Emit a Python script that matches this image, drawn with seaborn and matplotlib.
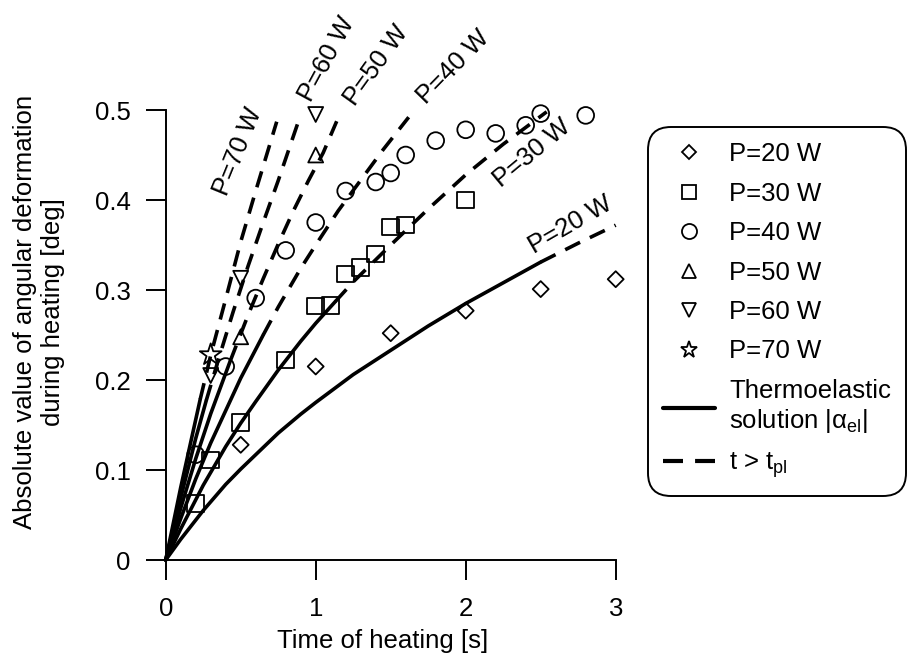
import matplotlib
matplotlib.use("Agg")
import matplotlib.pyplot as plt
import seaborn as sns
import numpy as np
import pandas as pd
from matplotlib.lines import Line2D

# ---------------- data ----------------
# theoretical curves |alpha_el|(t); solid up to t_pl, dashed after
p20_t = [0, 0.1, 0.25, 0.4, 0.5, 0.6, 0.75, 0.9, 1.0, 1.25, 1.5, 1.75, 2.0, 2.25, 2.5, 2.75, 3.0]
p20_y = [0, 0.023, 0.055, 0.084, 0.101, 0.117, 0.141, 0.162, 0.175, 0.206, 0.233, 0.260, 0.285, 0.308, 0.331, 0.352, 0.372]
p20_tpl = 2.5
p30_t = [0, 0.1, 0.25, 0.4, 0.5, 0.6, 0.75, 0.9, 1.0, 1.13, 1.25, 1.5, 1.75, 2.0, 2.25, 2.54]
p30_y = [0, 0.0345, 0.083, 0.126, 0.152, 0.176, 0.211, 0.243, 0.263, 0.287, 0.309, 0.350, 0.390, 0.428, 0.462, 0.498]
p30_tpl = 1.13
p40_t = [0, 0.1, 0.2, 0.3, 0.4, 0.5, 0.65, 0.75, 0.9, 1.0, 1.15, 1.3, 1.45, 1.62]
p40_y = [0, 0.046, 0.09, 0.13, 0.166, 0.202, 0.25, 0.281, 0.324, 0.35, 0.388, 0.422, 0.456, 0.492]
p40_tpl = 0.65
p50_t = [0, 0.1, 0.2, 0.3, 0.43, 0.55, 0.65, 0.75, 0.85, 0.95, 1.05, 1.14]
p50_y = [0, 0.0575, 0.1125, 0.1625, 0.221, 0.2725, 0.3125, 0.351, 0.3875, 0.421, 0.4525, 0.4875]
p50_tpl = 0.43
p60_t = [0, 0.1, 0.2, 0.27, 0.35, 0.45, 0.55, 0.65, 0.75, 0.884]
p60_y = [0, 0.069, 0.135, 0.177, 0.222, 0.276, 0.327, 0.375, 0.4215, 0.487]
p60_tpl = 0.27
p70_t = [0, 0.1, 0.23, 0.3, 0.4, 0.5, 0.6, 0.74]
p70_y = [0, 0.0805, 0.1785, 0.2275, 0.29, 0.3535, 0.41, 0.487]
p70_tpl = 0.23

# measured points
m20_t = [0.5, 1.0, 1.5, 2.0, 2.5, 3.0]
m20_y = [0.128, 0.215, 0.252, 0.277, 0.301, 0.312]
m30_t = [0.2, 0.3, 0.5, 0.8, 1.0, 1.1, 1.2, 1.3, 1.4, 1.5, 1.6, 2.0]
m30_y = [0.063, 0.111, 0.153, 0.222, 0.282, 0.283, 0.318, 0.325, 0.34, 0.37, 0.372, 0.40]
m40_t = [0.2, 0.4, 0.6, 0.8, 1.0, 1.2, 1.4, 1.5, 1.6, 1.8, 2.0, 2.2, 2.4, 2.5, 2.8]
m40_y = [0.117, 0.215, 0.291, 0.344, 0.375, 0.41, 0.42, 0.43, 0.45, 0.466, 0.478, 0.474, 0.483, 0.496, 0.494]
m50_t = [0.5, 1.0]
m50_y = [0.248, 0.45]
m60_t = [0.3, 0.5, 1.0]
m60_y = [0.205, 0.313, 0.495]
m70_t = [0.3]
m70_y = [0.228]

series_labels = ["P=20 W", "P=30 W", "P=40 W", "P=50 W", "P=60 W", "P=70 W"]

# ---------------- style ----------------
sns.set_theme(style="ticks")
plt.rcParams["font.family"] = ["Liberation Sans", "DejaVu Sans"]
plt.rcParams["mathtext.fontset"] = "custom"
plt.rcParams["mathtext.rm"] = "Liberation Sans"
plt.rcParams["mathtext.it"] = "Liberation Sans"
for k in ["text.color", "axes.labelcolor", "xtick.color", "ytick.color", "axes.edgecolor"]:
    plt.rcParams[k] = "black"
FS = 18.5

fig = plt.figure(figsize=(9.09, 6.59), dpi=100)
W, H = 909, 659
x0px, x3px, y0px, y5px = 165.7, 615.7, 560.0, 110.0
ax = fig.add_axes([x0px / W, (H - y0px) / H, (x3px - x0px) / W, (y0px - y5px) / H])

LW = 2.6
DASH = (0, (4.6, 3.0))

curves = [(p20_t, p20_y, p20_tpl), (p30_t, p30_y, p30_tpl), (p40_t, p40_y, p40_tpl),
          (p50_t, p50_y, p50_tpl), (p60_t, p60_y, p60_tpl), (p70_t, p70_y, p70_tpl)]
for t, y, tpl in curves:
    df = pd.DataFrame({"t": t, "y": y})
    solid = df[df.t <= tpl + 1e-9]
    dashed = df[df.t >= tpl - 1e-9]
    sns.lineplot(data=solid, x="t", y="y", color="black", lw=LW, ax=ax,
                 sort=False, estimator=None, clip_on=False)
    sns.lineplot(data=dashed, x="t", y="y", color="black", lw=LW, ax=ax,
                 sort=False, estimator=None, linestyle=DASH, clip_on=False)

markers = [(m20_t, m20_y, "D", 66), (m30_t, m30_y, "s", 140), (m40_t, m40_y, "o", 145),
           (m50_t, m50_y, "^", 115), (m60_t, m60_y, "v", 115), (m70_t, m70_y, "*", 270)]
for t, y, mk, s in markers:
    sns.scatterplot(x=t, y=y, marker=mk, s=s, color="none", edgecolor="black",
                    linewidth=1.3, ax=ax, zorder=3, clip_on=False)

# curve labels
lab_pos = [(2.695, 0.372, 30), (2.44, 0.452, 39.7), (1.917, 0.548, 45.7),
           (1.402, 0.55, 54.3), (1.073, 0.557, 61.6), (0.484, 0.454, 67.8)]
for lab, (x, y, r) in zip(series_labels, lab_pos):
    ax.text(x, y, lab, rotation=r, ha="center", va="center", rotation_mode="anchor",
            fontsize=FS, clip_on=False)

ax.set_xlim(0, 3)
ax.set_ylim(0, 0.5)
ax.set_xticks([0, 1, 2, 3])
ax.set_xticklabels(["0", "1", "2", "3"])
ax.set_yticks([0, 0.1, 0.2, 0.3, 0.4, 0.5])
ax.set_yticklabels(["0", "0.1", "0.2", "0.3", "0.4", "0.5"])
for s in ["top", "right"]:
    ax.spines[s].set_visible(False)
for s in ["left", "bottom"]:
    ax.spines[s].set_linewidth(1.4)
    ax.spines[s].set_color("black")
ax.tick_params(axis="both", direction="out", length=14.4, width=1.4, colors="black",
               labelsize=FS)
ax.tick_params(axis="x", pad=12)
ax.tick_params(axis="y", pad=11)

ax.set_xlabel("Time of heating [s]", fontsize=FS, va="center")
ax.xaxis.set_label_coords((382.5 - x0px) / (x3px - x0px), (y0px - 641) / (y0px - y5px))
ax.set_ylabel("Absolute value of angular deformation\nduring heating [deg]", fontsize=FS,
              va="center", linespacing=1.2)
ax.yaxis.set_label_coords((39 - x0px) / (x3px - x0px), (y0px - 311.7) / (y0px - y5px))

handles = []
for lab, (t, y, mk, s) in zip(series_labels, markers):
    handles.append(Line2D([], [], marker=mk, linestyle="none", markerfacecolor="none",
                          markeredgecolor="black", markeredgewidth=1.3,
                          markersize=np.sqrt(s) * (0.9 if mk != "*" else 0.75), label=lab))
handles.append(Line2D([], [], color="black", lw=3.0,
                      label="Thermoelastic\nsolution |$\\alpha_{\\rm el}$|"))
handles.append(Line2D([], [], color="black", lw=3.0, linestyle=(0, (4.8, 2.9)),
                      label="t > t$_{\\rm pl}$"))
leg = fig.legend(handles=handles, loc="upper left", bbox_to_anchor=(648 / W, 1 - 127 / H),
                 frameon=True, fancybox=True, edgecolor="black", framealpha=1,
                 borderpad=0.6, handlelength=2.0, handletextpad=0.55, labelspacing=0.6,
                 fontsize=FS, borderaxespad=0)
fr = leg.get_frame()
fr.set_linewidth(1.4)
fr.set_boxstyle("round,pad=0,rounding_size=0.9")

fig.savefig("out.png", dpi=100)
